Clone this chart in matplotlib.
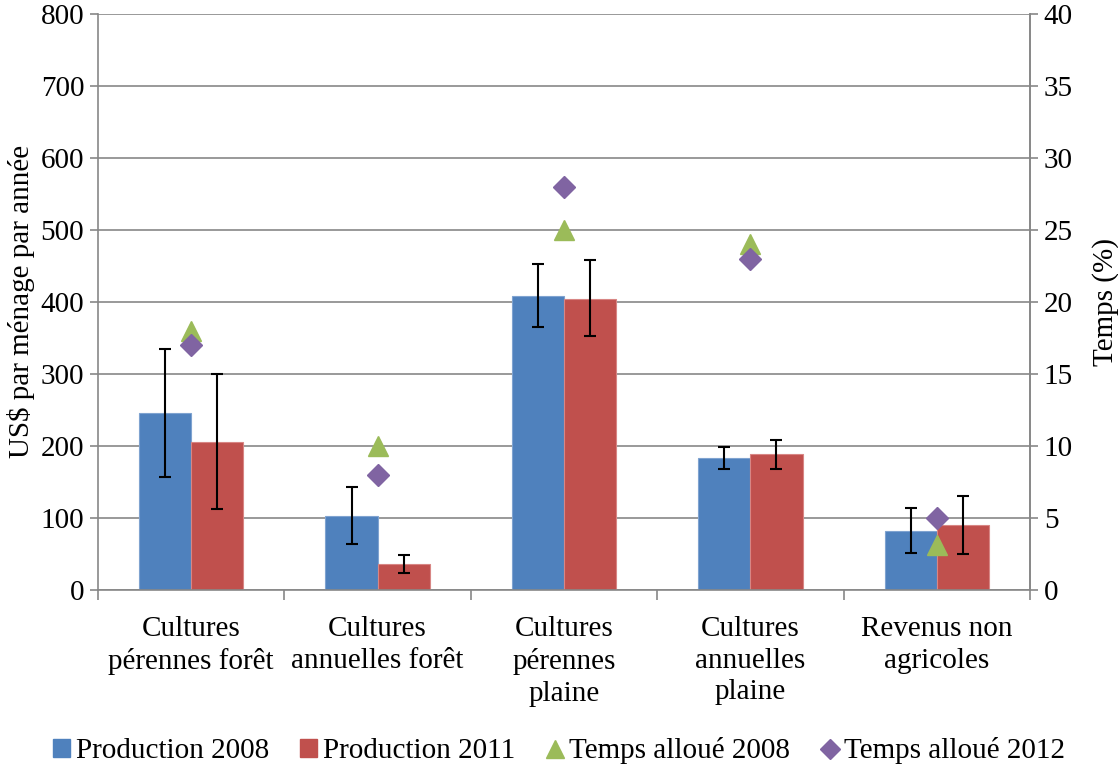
import matplotlib.pyplot as plt
import numpy as np
from matplotlib.lines import Line2D
from matplotlib.patches import Patch

plt.rcParams['font.family'] = ['Liberation Serif', 'DejaVu Serif']
plt.rcParams['font.size'] = 21

categories = ['Cultures\npérennes forêt', 'Cultures\nannuelles forêt', 'Cultures\npérennes\nplaine',
              'Cultures\nannuelles\nplaine', 'Revenus non\nagricoles']
prod_2008 = [246, 102, 408, 183, 82]
prod_2011 = [206, 36, 404, 188, 90]
err_2008_low = [157, 63, 365, 168, 51]
err_2008_high = [335, 143, 453, 199, 114]
err_2011_low = [112, 24, 353, 168, 50]
err_2011_high = [300, 49, 458, 208, 130]
temps_2008 = [18, 10, 25, 24, 3.1]
temps_2012 = [17, 8, 28, 23, 5]

blue = '#4F81BD'
red = '#C0504D'
green = '#9BBB59'
purple = '#8064A2'

fig = plt.figure(figsize=(11.18, 7.69), dpi=100)
ax = fig.add_axes([0.0877, 0.233, 0.8335, 0.749])
x = np.arange(len(categories))
w = 0.28

yerr1 = [np.array(prod_2008) - np.array(err_2008_low), np.array(err_2008_high) - np.array(prod_2008)]
yerr2 = [np.array(prod_2011) - np.array(err_2011_low), np.array(err_2011_high) - np.array(prod_2011)]
ax.bar(x - w / 2, prod_2008, w, color=blue, edgecolor='#7FA3D0', linewidth=0.8, zorder=2)
ax.bar(x + w / 2, prod_2011, w, color=red, edgecolor='#D88684', linewidth=0.8, zorder=2)
ax.errorbar(x - w / 2, prod_2008, yerr=yerr1, fmt='none', ecolor='black', elinewidth=1.5, capsize=4.5, capthick=1.5, zorder=3)
ax.errorbar(x + w / 2, prod_2011, yerr=yerr2, fmt='none', ecolor='black', elinewidth=1.5, capsize=4.5, capthick=1.5, zorder=3)

ax.set_ylim(0, 800)
ax.set_xlim(-0.5, len(categories) - 0.5)
ax.set_yticks(range(0, 801, 100))
ax.yaxis.grid(True, color='#878787', linewidth=1.2, zorder=0)
ax.set_axisbelow(True)
ax.set_xticks(x)
ax.set_xticklabels(categories, linespacing=1.28)
ax.tick_params(axis='x', length=0, pad=19)
ax.set_xticks(np.arange(-0.5, len(categories)), minor=True)
ax.tick_params(axis='x', which='minor', length=7, color='#878787', width=1.2)
ax.tick_params(axis='y', length=6, color='#878787', width=1.2, pad=4)
ax.spines['top'].set_visible(False)
for s in ['left', 'right', 'bottom']:
    ax.spines[s].set_color('#878787')
    ax.spines[s].set_linewidth(1.2)
ax.set_ylabel('US$ par ménage par année', labelpad=4)

ax2 = ax.twinx()
ax2.set_ylim(0, 40)
ax2.set_yticks(range(0, 41, 5))
ax2.plot(x, temps_2008, linestyle='none', marker='^', markersize=15, color=green, zorder=4)
ax2.plot(x, temps_2012, linestyle='none', marker='D', markersize=11, color=purple, zorder=5)
ax2.tick_params(axis='y', length=6, color='#878787', width=1.2, pad=4)
for s in ['top', 'left', 'bottom']:
    ax2.spines[s].set_visible(False)
ax2.spines['right'].set_color('#878787')
ax2.spines['right'].set_linewidth(1.2)
ax2.set_ylabel('Temps (%)', labelpad=14)

handles = [Patch(color=blue), Patch(color=red),
           Line2D([], [], linestyle='none', marker='^', markersize=13, color=green),
           Line2D([], [], linestyle='none', marker='D', markersize=10, color=purple)]
labels = ['Production 2008', 'Production 2011', 'Temps alloué 2008', 'Temps alloué 2012']
fig.legend(handles, labels, loc='lower center', bbox_to_anchor=(0.5, -0.028), ncol=4, frameon=False,
           handlelength=0.6, handleheight=0.6, handletextpad=0.2, columnspacing=1.05)

fig.savefig('out.png', dpi=100)
